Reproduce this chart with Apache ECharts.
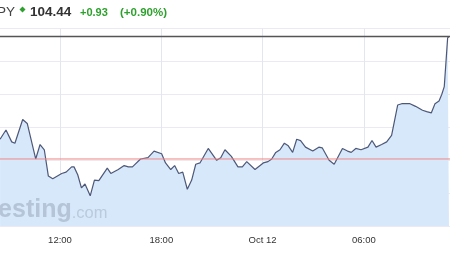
<!DOCTYPE html>
<html>
<head>
<meta charset="utf-8">
<script src="https://cdn.jsdelivr.net/npm/echarts@6/dist/echarts.min.js"></script>
<style>
html,body{margin:0;padding:0;background:#fff;}
#chart{width:450px;height:270px;}
</style>
</head>
<body>
<div id="chart"></div>
<script>
// Hours since Oct 11 00:00 (15-minute bars)
var hours = [8.45,8.80,9.14,9.33,9.79,10.06,10.56,10.82,11.07,11.31,11.57,12.10,12.36,12.69,12.83,13.05,13.27,13.48,13.79,14.04,
  14.30,14.80,15.01,15.45,15.80,16.05,16.29,16.77,17.21,17.57,18.02,18.25,18.56,18.79,19.03,19.27,19.54,19.80,20.04,20.29,
  20.78,21.28,21.52,21.77,22.15,22.54,22.80,23.06,23.55,24.04,24.32,24.54,24.78,25.03,25.29,25.52,25.78,26.02,26.25,26.54,
  26.97,27.33,27.53,27.94,28.24,28.73,29.03,29.25,29.52,29.83,30.24,30.48,30.72,31.05,31.35,31.64,32.00,32.24,32.49,32.73,
  33.06,33.47,33.72,33.99,34.21,34.45,34.61,34.76,34.96,35.04];
var prices = [103.66,103.73,103.64,103.63,103.81,103.78,103.51,103.62,103.58,103.38,103.36,103.40,103.41,103.45,103.45,103.39,103.29,103.32,103.23,103.35,
  103.345,103.44,103.40,103.43,103.46,103.45,103.45,103.51,103.52,103.57,103.55,103.48,103.43,103.46,103.40,103.41,103.28,103.35,103.47,103.48,
  103.59,103.50,103.52,103.58,103.53,103.45,103.45,103.49,103.43,103.48,103.49,103.51,103.56,103.58,103.63,103.61,103.56,103.66,103.65,103.60,
  103.57,103.60,103.595,103.50,103.47,103.59,103.57,103.56,103.59,103.58,103.60,103.65,103.60,103.62,103.64,103.69,103.92,103.93,103.93,103.93,
  103.91,103.88,103.87,103.86,103.93,103.95,104.00,104.06,104.43,104.44];
var prevClose = 103.51;
var lastPrice = 104.44;
var axisStart = 6, axisEnd = 36;
var tickHours = [6,12,18,24,30,36];
var tickLabels = ['06:00','12:00','18:00','Oct 12','06:00','12:00'];
var headerSymbol = 'USD/JPY';
var headerPrice = '104.44';
var headerChange = '+0.93';
var headerPct = '(+0.90%)';

var data = hours.map(function(h,i){return [h, prices[i]];});
var FONT = 'Arial, "Liberation Sans", sans-serif';

var chart = echarts.init(document.getElementById('chart'), null, {renderer:'canvas'});
chart.setOption({
  animation:false,
  backgroundColor:'#ffffff',
  grid:{left:-41.3, right:-15.2, top:28.7, bottom:43.9, containLabel:false, outerBoundsMode:'none'},
  xAxis:{
    type:'value', min:axisStart, max:axisEnd, interval:6,
    axisLine:{show:false}, axisTick:{show:false},
    splitLine:{show:true, lineStyle:{color:'#e4e6ee', width:1}},
    axisLabel:{
      margin:9, color:'#333', fontSize:9.5, fontFamily:FONT,
      formatter:function(v){var i=tickHours.indexOf(v);return i>=0?tickLabels[i]:'';}
    }
  },
  yAxis:{
    type:'value', min:103, max:104.5, interval:0.25,
    axisLine:{show:false}, axisTick:{show:false}, axisLabel:{show:false},
    splitLine:{show:true, lineStyle:{color:'#eaeaf0', width:1}}
  },
  series:[
    {
      type:'line', data:data, showSymbol:false, smooth:false, z:3,
      lineStyle:{color:'#4d5878', width:1.2},
      areaStyle:{color:'#d8e8fb', opacity:1, origin:'start'}
    },
    {
      type:'line', data:[[axisStart,prevClose],[axisEnd,prevClose]], showSymbol:false, silent:true, z:4,
      lineStyle:{color:'#f08585', width:1}
    },
    {
      type:'line', data:[[axisStart,lastPrice],[axisEnd,lastPrice]], showSymbol:false, silent:true, z:4,
      lineStyle:{color:'#555555', width:1.5}
    }
  ],
  graphic:[
    {type:'text', left:-38, top:198, z:100, silent:true,
     style:{text:'{b|Investing}{c|.com}', rich:{
       b:{fontSize:25, fontWeight:'bold', fontFamily:FONT, fill:'rgba(120,132,152,0.36)'},
       c:{fontSize:16.5, fontFamily:FONT, fill:'rgba(120,132,152,0.30)', padding:[5,0,0,0]}
     }}},
    {type:'text', x:-42, y:12, z:100, silent:true,
     style:{text:headerSymbol, fontSize:13.5, fontFamily:FONT, fill:'#444', verticalAlign:'middle'}},
    {type:'polygon', z:100, silent:true, shape:{points:[[22.5,6.5],[25.5,9.5],[22.5,12.5],[19.5,9.5]]}, style:{fill:'#2ea02e'}},
    {type:'text', x:30, y:12, z:100, silent:true,
     style:{text:headerPrice, fontSize:13.5, fontWeight:'bold', fontFamily:FONT, fill:'#333', verticalAlign:'middle'}},
    {type:'text', x:80, y:12.5, z:100, silent:true,
     style:{text:headerChange, fontSize:11, fontWeight:'bold', fontFamily:FONT, fill:'#2ea02e', verticalAlign:'middle'}},
    {type:'text', x:120, y:12.5, z:100, silent:true,
     style:{text:headerPct, fontSize:11.5, fontWeight:'bold', fontFamily:FONT, fill:'#2ea02e', verticalAlign:'middle'}}
  ]
});
</script>
</body>
</html>
